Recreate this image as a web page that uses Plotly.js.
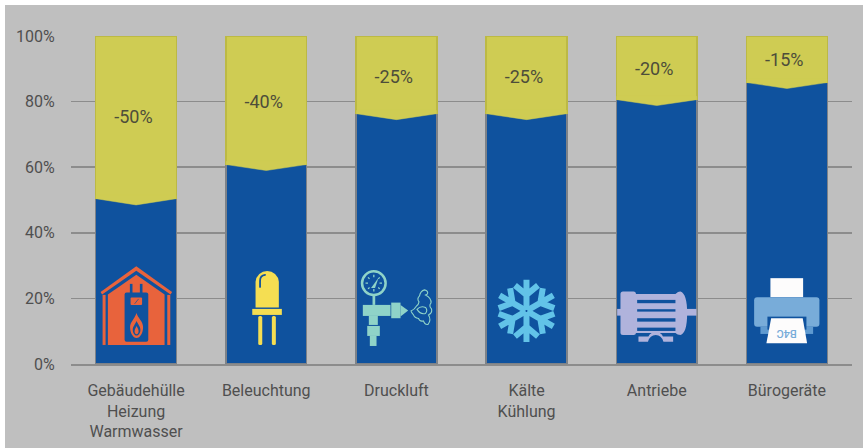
<!DOCTYPE html>
<html><head><meta charset="utf-8">
<script src="https://cdn.plot.ly/plotly-3.0.1.min.js"></script>
<style>html,body{margin:0;padding:0;background:#fff;overflow:hidden}#c{position:absolute;left:5px;top:5px;width:858px;height:443px}</style>
</head><body><div id="c"></div>
<script>
const categories = ["Gebäudehülle<br>Heizung<br>Warmwasser","Beleuchtung","Druckluft","Kälte<br>Kühlung","Antriebe","Bürogeräte"];
const verbrauch = [50.4, 60.8, 76.3, 76.3, 80.6, 85.8];
const einsparung = [49.6, 39.2, 23.7, 23.7, 19.4, 14.2];
const kerbe = [48.5, 59.0, 74.5, 74.5, 78.8, 84.0];
const labels = ["-50%","-40%","-25%","-25%","-20%","-15%"];
const labelY = [74.8, 79.5, 87.1, 87.1, 89.6, 92.3];
const yTicks = [0,20,40,60,80,100];
const xs = categories.map((_, i) => i);
const BW = 0.622;

const BLUE="#0f529e", YEL="#cfcc53";
const traces = [
  {type:"bar",x:xs,y:verbrauch,width:BW,marker:{color:BLUE,line:{color:"#7d8288",width:1.5}},hoverinfo:"skip"},
  {type:"bar",x:xs,y:einsparung,width:BW,marker:{color:YEL,line:{color:"#bcb944",width:1.5}},hoverinfo:"skip"}
];
xs.forEach(i => traces.push({type:"scatter",mode:"lines",
  x:[i-BW/2+0.004,i-BW/2+0.004,i,i+BW/2-0.004,i+BW/2-0.004,i-BW/2+0.004],
  y:[verbrauch[i]+1,verbrauch[i],kerbe[i],verbrauch[i],verbrauch[i]+1,verbrauch[i]+1],
  fill:"toself",fillcolor:YEL,line:{color:YEL,width:0.5},hoverinfo:"skip"}));
traces.push({type:"scatter",mode:"text",x:xs.map(i=>i-0.02),y:labelY,text:labels,textposition:"middle center",
  textfont:{family:"Roboto",size:18,color:"#4d4d3a",weight:400},hoverinfo:"skip"});

function uri(cx, body){
  const s=`<svg xmlns="http://www.w3.org/2000/svg" viewBox="${cx-50} 260 100 100" width="100" height="100">${body}</svg>`;
  return "data:image/svg+xml;charset=utf-8,"+encodeURIComponent(s);
}
const haus = `<g fill="#e8633c">
<path d="M135.700 266.500 L171.500 292 L170 294.500 L135.700 270.800 L101.500 294.500 L100 292Z"/>
<path d="M135.700 275 L164 294.500 V345 H107.300 V294.500Z"/>
<rect x="102" y="295" width="3" height="50"/><rect x="166.700" y="295" width="3" height="50"/></g>
<g fill="${BLUE}"><rect x="129.300" y="284" width="2.600" height="10"/><rect x="139.300" y="284" width="2.600" height="10"/>
<rect x="124" y="292.700" width="23.700" height="49" rx="2"/></g>
<rect x="130" y="297.500" width="11.500" height="7.500" rx="1" fill="#e8633c"/>
<path d="M134 304 L138 299" stroke="${BLUE}" stroke-width=".7"/>
<path fill-rule="evenodd" fill="#e8633c" d="M136 313 C137 318 142.500 321 142.500 327 C142.500 333 139.500 338 136 338 C132.500 338 129.500 333 129.500 327 C129.500 322 134 319 136 313Z M136 321 C135 324 132.200 326 132.200 330 C132.200 333.500 134.500 335.500 136 335.500 C137.500 335.500 139.800 333.500 139.800 330 C139.800 326 137 324 136 321Z"/>
<path fill="#e8633c" d="M136 326 C137 328 138 329.500 138 331.500 C138 333 137 334.300 136 334.300 C135 334.300 134 333 134 331.500 C134 329.500 135 328 136 326Z"/>`;
const led = `<g fill="#f5de52"><path d="M255 307.700 V282 A11.700 12 0 0 1 278.300 282 V307.700Z"/>
<rect x="251.700" y="309" width="29.600" height="6"/>
<rect x="257.700" y="316" width="4" height="29" rx="1.500"/><rect x="271.300" y="316" width="4" height="29" rx="1.500"/></g>
<path d="M259.500 287 V281 Q259.500 275.500 264.500 275" fill="none" stroke="${BLUE}" stroke-width="1.800" stroke-linecap="round"/>`;
const lc="#8fd3c8";
const druck = `<circle cx="373.300" cy="283.300" r="11.800" fill="none" stroke="${lc}" stroke-width="2.500"/>
<path d="M373.300 275 V277.500 M381.500 283.300 H379 M365 283.300 H367.500 M373.300 291.500 V289 M367.500 277.500 L369 279 M379.200 277.500 L377.700 279 M367.500 289 L369 287.600 M379.200 289 L377.700 287.600" stroke="${lc}" stroke-width="1.300"/>
<path d="M370.500 288 L378 278 L374.500 288Z" fill="${lc}"/>
<g fill="${lc}"><rect x="372" y="296" width="2.700" height="9"/>
<rect x="362.300" y="305" width="27.700" height="11"/><rect x="368.300" y="316" width="9" height="9"/>
<rect x="366.700" y="326" width="12.600" height="10"/><rect x="369.300" y="336" width="6.700" height="10"/>
<rect x="390.700" y="302.700" width="9.300" height="15.600"/><path d="M400 305 L407.700 310.700 L400 316.500Z"/></g>
<path d="M410.500 311 Q414 309.500 416 306 Q418 305 418.500 302 Q416 299 419 296 Q420 291 424 290 Q428 291 427 294 L425 295 Q431 298 430.500 303 Q428 306 431 309 Q432 313 428 315 Q431 320 427.500 324.500 Q424 325 423 321 Q419 322 418 318.500 Q414 318 413 315 Q411 313 410.500 311Z M416.500 309.500 Q420 305.500 425 307.500 Q427.500 310.500 425 313.500 Q420 315 416.500 309.500Z" fill="none" stroke="${lc}" stroke-width="1.100"/>`;
const arm = `<path d="M526 310 V280 M526 295 L514.500 285.500 M526 295 L537.500 285.500" fill="none" stroke="#62c3e8" stroke-width="6"/>`;
let flake = "";
[0,60,120,180,240,300].forEach(a => { flake += `<g transform="rotate(${a} 526 311)">${arm}</g>`; });
const motor = `<g fill="#b0b3dc"><rect x="620" y="291.700" width="15.500" height="43.300" rx="2.500"/>
<path d="M633 294 H675 Q678 291.500 680 291.700 Q686.700 294 686.700 313.300 Q686.700 333 680 335 Q677 335 675 333 H633Z"/>
<rect x="616.700" y="309" width="79.300" height="6.700"/>
<path d="M638 336.500 H648 Q650 332 655.300 332 Q660.500 332 662.500 336.500 H672.700 V341.700 H663 Q661 335 655.300 335 Q649.500 335 647.500 341.700 H638Z"/></g>
<g fill="${BLUE}"><rect x="636.700" y="300" width="38.300" height="3.300"/><rect x="636.700" y="309.300" width="38.300" height="2.400"/>
<rect x="636.700" y="318.300" width="38.300" height="3.400"/><rect x="636.700" y="327.700" width="38.300" height="3.300"/></g>`;
const druckr = `<rect x="770" y="278.300" width="32.700" height="19" fill="#fdfcfc"/>
<rect x="753.700" y="297.300" width="65.300" height="29.500" rx="3" fill="#78acd9"/>
<rect x="760" y="326.700" width="52.700" height="7.300" fill="#5f9ad0"/>
<rect x="767" y="316.700" width="39" height="13" fill="${BLUE}"/>
<path d="M770.700 318.300 H802.300 L806.700 343.300 H766Z" fill="#fdfcfc"/>`;
const icons = [haus, led, druck, flake, motor, druckr];

const pxX = 130.2, pxY = 3.275;
const images = icons.map((b,i)=>({source:uri(135.5+130.2*i,b),xref:"x",yref:"y",x:i,y:(364-260)/pxY,sizex:100/pxX,sizey:100/pxY,
  xanchor:"center",yanchor:"top",sizing:"stretch",layer:"above"}));

const tickStyle = {family:"Roboto",color:"#4f4f4f",weight:400};
const layout = {
  width:858,height:443,barmode:"stack",showlegend:false,
  paper_bgcolor:"#bfbfbf",plot_bgcolor:"#bfbfbf",
  margin:{l:66,r:11,t:31,b:84},
  font:{family:"Roboto",size:16,color:"#4f4f4f",weight:400},
  xaxis:{type:"linear",range:[-0.5,5.5],tickmode:"array",tickvals:xs,ticktext:categories,showgrid:false,zeroline:false,
    showline:true,linecolor:"#8c8c8c",linewidth:2,ticks:"outside",ticklen:10.500,tickcolor:"rgba(0,0,0,0)",tickangle:0,
    tickfont:{...tickStyle,size:16}},
  yaxis:{range:[0,100],tickmode:"array",tickvals:yTicks,ticktext:yTicks.map(v=>v+"%"),showgrid:true,gridcolor:"#8c8c8c",gridwidth:1.5,
    zeroline:false,showline:false,ticks:"outside",ticklen:12,tickcolor:"rgba(0,0,0,0)",
    tickfont:{...tickStyle,size:16}},
  images,
  annotations:[{xref:"x",yref:"y",x:5,y:(364-333)/pxY,text:"B4C",showarrow:false,textangle:180,
    font:{family:"Roboto",size:11,color:"#78acd9",weight:500}}]
};
Plotly.newPlot("c",traces,layout,{staticPlot:true,displayModeBar:false});
</script></body></html>
